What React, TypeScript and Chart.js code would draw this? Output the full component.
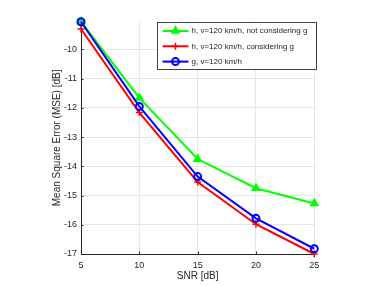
import React, { useEffect, useRef } from "react";
import { Chart, registerables } from "chart.js";
import { drawPoint } from "chart.js/helpers";

Chart.register(...registerables);

const snr = [5, 10, 15, 20, 25];
const mseNotConsidering = [-9.05, -11.66, -13.75, -14.75, -15.27];
const mseConsidering = [-9.3, -12.16, -14.54, -15.98, -17.0];
const mseG = [-9.05, -11.95, -14.35, -15.78, -16.82];
const seriesLabels = [
  "h, v=120 km/h, not considering g",
  "h, v=120 km/h, considering g",
  "g, v=120 km/h",
];
const xTicks = [5, 10, 15, 20, 25];
const yTicks = [-17, -16, -15, -14, -13, -12, -11, -10];

const FONT = "'Liberation Sans', Arial, Helvetica, sans-serif";
const TEXT = "#262626";

const innerTicks = {
  id: "innerTicks",
  beforeDatasetsDraw(chart: any) {
    const ctx = chart.ctx as CanvasRenderingContext2D;
    const ca = chart.chartArea;
    const xs = chart.scales.x;
    const ys = chart.scales.y;
    ctx.save();
    ctx.strokeStyle = TEXT;
    ctx.lineWidth = 1;
    ctx.beginPath();
    xTicks.forEach((v) => {
      const px = Math.round(xs.getPixelForValue(v)) + 0.5;
      ctx.moveTo(px, ca.bottom);
      ctx.lineTo(px, ca.bottom - 2.5);
    });
    yTicks.forEach((v) => {
      const py = Math.round(ys.getPixelForValue(v)) + 0.5;
      ctx.moveTo(ca.left, py);
      ctx.lineTo(ca.left + 2.5, py);
    });
    ctx.stroke();
    ctx.restore();
  },
};

const boxLegend = {
  id: "boxLegend",
  afterDraw(chart: any) {
    const ctx = chart.ctx as CanvasRenderingContext2D;
    const ca = chart.chartArea;
    const w = 159;
    const h = 47;
    const x0 = Math.round(ca.right + 1.2 - w) + 0.5;
    const y0 = Math.round(ca.top - 0.2) + 0.5;
    ctx.save();
    ctx.fillStyle = "#ffffff";
    ctx.fillRect(x0, y0, w, h);
    ctx.strokeStyle = "#404040";
    ctx.lineWidth = 1;
    ctx.strokeRect(x0, y0, w, h);
    ctx.font = `8px ${FONT}`;
    ctx.textBaseline = "middle";
    ctx.textAlign = "left";
    chart.data.datasets.forEach((ds: any, i: number) => {
      const cy = y0 + 8.5 + i * 15.3;
      const lx1 = x0 + 5;
      const lx2 = x0 + 31;
      ctx.strokeStyle = ds.borderColor;
      ctx.lineWidth = ds.borderWidth;
      ctx.beginPath();
      ctx.moveTo(lx1, cy);
      ctx.lineTo(lx2, cy);
      ctx.stroke();
      ctx.fillStyle = ds.pointBackgroundColor;
      ctx.strokeStyle = ds.pointBorderColor;
      ctx.lineWidth = ds.pointBorderWidth;
      drawPoint(
        ctx,
        { pointStyle: ds.pointStyle, radius: ds.pointRadius, borderWidth: ds.pointBorderWidth, rotation: 0 },
        (lx1 + lx2) / 2,
        cy
      );
      ctx.fillStyle = TEXT;
      ctx.fillText(ds.label, x0 + 34, cy);
    });
    ctx.restore();
  },
};

export default function App() {
  const ref = useRef<HTMLCanvasElement | null>(null);

  useEffect(() => {
    document.body.style.margin = "0";
    Chart.defaults.font.family = FONT;
    const mk = (vals: number[]) => snr.map((x, i) => ({ x, y: vals[i] }));
    const chart = new Chart(ref.current as HTMLCanvasElement, {
      type: "line",
      data: {
        datasets: [
          {
            label: seriesLabels[0],
            data: mk(mseNotConsidering),
            borderColor: "#00ff00",
            backgroundColor: "#00ff00",
            borderWidth: 2,
            pointStyle: "triangle",
            pointRadius: 4.2,
            pointBackgroundColor: "#00ff00",
            pointBorderColor: "#00ff00",
            pointBorderWidth: 1.5,
            clip: false,
            order: 3,
          },
          {
            label: seriesLabels[1],
            data: mk(mseConsidering),
            borderColor: "#ff0000",
            backgroundColor: "#ff0000",
            borderWidth: 2,
            pointStyle: "cross",
            pointRadius: 3.5,
            pointBackgroundColor: "#ff0000",
            pointBorderColor: "#ff0000",
            pointBorderWidth: 1.5,
            clip: false,
            order: 2,
          },
          {
            label: seriesLabels[2],
            data: mk(mseG),
            borderColor: "#0000ff",
            backgroundColor: "#0000ff",
            borderWidth: 2,
            pointStyle: "circle",
            pointRadius: 3.5,
            pointBackgroundColor: "rgba(0,0,0,0)",
            pointBorderColor: "#0000ff",
            pointBorderWidth: 2,
            clip: false,
            order: 1,
          },
        ] as any,
      },
      options: {
        responsive: false,
        animation: false,
        layout: { padding: { left: 0, top: 21.7, right: 67.7, bottom: 0 } },
        plugins: { legend: { display: false }, tooltip: { enabled: false } },
        elements: { line: { tension: 0 } },
        scales: {
          x: {
            type: "linear",
            position: "bottom",
            min: 5,
            max: 25,
            afterFit: (s: any) => {
              s.height = 32;
            },
            afterBuildTicks: (s: any) => {
              s.ticks = xTicks.map((v) => ({ value: v }));
            },
            ticks: { font: { size: 9 }, color: TEXT, padding: 6, maxRotation: 0 },
            grid: { color: "#e6e6e6", drawTicks: false, lineWidth: 1 },
            border: { color: TEXT, width: 1 },
            title: {
              display: true,
              text: "SNR [dB]",
              font: { size: 10 },
              color: TEXT,
              padding: { top: 0, bottom: 3.5 },
            },
          },
          y: {
            type: "linear",
            min: -17,
            max: -9.05,
            afterFit: (s: any) => {
              s.width = 81;
            },
            afterBuildTicks: (s: any) => {
              s.ticks = yTicks.map((v) => ({ value: v }));
            },
            ticks: { font: { size: 9 }, color: TEXT, padding: 4 },
            grid: { color: "#e6e6e6", drawTicks: false, lineWidth: 1 },
            border: { color: TEXT, width: 1 },
            title: {
              display: true,
              text: "Mean Square Error (MSE) [dB]",
              font: { size: 10 },
              color: TEXT,
              padding: { top: 51, bottom: 0 },
            },
          },
        },
      },
      plugins: [innerTicks, boxLegend],
    });
    return () => chart.destroy();
  }, []);

  return (
    <div style={{ width: 382, height: 286 }}>
      <canvas ref={ref} width={382} height={286} style={{ display: "block" }} />
    </div>
  );
}
